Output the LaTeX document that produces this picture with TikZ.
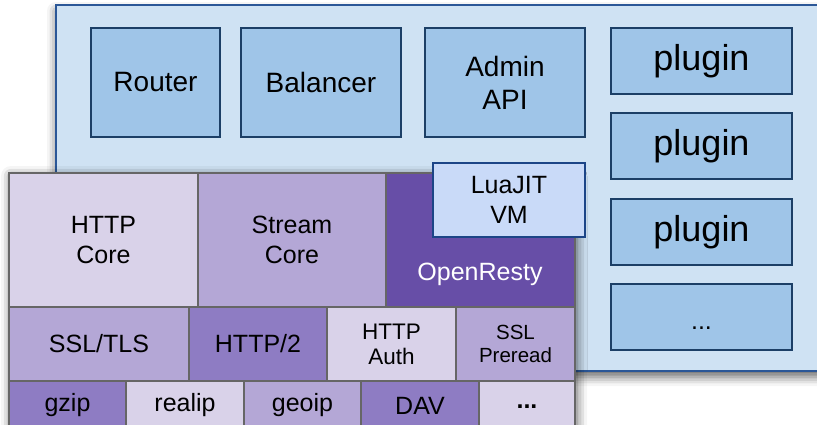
\documentclass[tikz,border=0pt]{standalone}
\usepackage{fontspec}
\setmainfont{Liberation Sans}
\usetikzlibrary{shadows.blur}
\definecolor{panelfill}{HTML}{CFE2F3}
\definecolor{paneldraw}{HTML}{2B5797}
\definecolor{modfill}{HTML}{9FC5E8}
\definecolor{moddraw}{HTML}{1C3F66}
\definecolor{vmfill}{HTML}{C9DAF8}
\definecolor{vmdraw}{HTML}{1C4587}
\definecolor{lilac}{HTML}{D9D2E9}
\definecolor{lavender}{HTML}{B4A7D6}
\definecolor{violet}{HTML}{8E7CC3}
\definecolor{grape}{HTML}{674EA7}
\definecolor{celldraw}{HTML}{666666}

\begin{document}
\begin{tikzpicture}[x=1pt,y=-1pt]
\tikzset{
  box/.style={anchor=north west,inner sep=0pt,outer sep=0pt,align=center,line width=1.5pt},
  panel/.style={box,draw=paneldraw,fill=panelfill,line width=1.8pt,
    blur shadow={shadow blur radius=9pt,shadow xshift=0pt,shadow yshift=-6pt,shadow opacity=60}},
  module/.style={box,draw=moddraw,fill=modfill,font=\fontsize{28}{33}\selectfont},
  plugin/.style={module,minimum width=181pt,minimum height=66pt,font=\fontsize{36}{42}\selectfont},
  cell/.style={box,draw=celldraw,font=\fontsize{25}{29.5}\selectfont},
  stackbg/.style={box,fill=lilac,
    blur shadow={shadow blur radius=10pt,shadow xshift=2pt,shadow yshift=-3pt,shadow opacity=65}},
  rowa/.style={cell,minimum height=134pt},
  rowb/.style={cell,minimum height=74pt},
  rowc/.style={cell,minimum height=49pt},
}
\clip (0,0) rectangle (817,425);
\node[panel,minimum width=790pt,minimum height=366pt] (apisix) at (56,5) {};
\node[module,minimum width=129pt,minimum height=109pt] (router) at (91,28) {Router};
\node[module,minimum width=160pt,minimum height=109pt] (balancer) at (241,28) {Balancer};
\node[module,minimum width=160pt,minimum height=109pt] (admin) at (425,28) {Admin\\API};
\node[plugin] (pluga) at (611,28) {plugin};
\node[plugin] (plugb) at (611,113) {plugin};
\node[plugin] (plugc) at (611,199) {plugin};
\node[plugin,font=\fontsize{25}{30}\selectfont,text height=24pt,text depth=0pt] (plugd) at (611,284) {...};
\node[stackbg,minimum width=566pt,minimum height=270pt] (nginx) at (9,173) {};
\node[rowa,fill=lilac,minimum width=189pt] (httpcore) at (9,173) {HTTP\\Core};
\node[rowa,fill=lavender,minimum width=188pt] (streamcore) at (198,173) {Stream\\Core};
\node[rowa,fill=grape,minimum width=189pt] (openresty) at (386,173) {};
\node[font=\fontsize{25}{29.5}\selectfont,text=white,anchor=base] (orlabel) at (480,280) {OpenResty};
\node[rowb,fill=lavender,minimum width=180pt] (ssl) at (9,307) {SSL/TLS};
\node[rowb,fill=violet,minimum width=138pt] (http2) at (189,307) {HTTP/2};
\node[rowb,fill=lilac,minimum width=129pt,font=\fontsize{22.5}{25}\selectfont] (auth) at (327,307) {HTTP\\Auth};
\node[rowb,fill=lavender,minimum width=119pt,font=\fontsize{20.5}{23}\selectfont] (preread) at (456,307) {SSL\\Preread};
\node[rowc,fill=violet,minimum width=117pt] (gzip) at (9,381) {gzip};
\node[rowc,fill=lilac,minimum width=118pt] (realip) at (126,381) {realip};
\node[rowc,fill=lavender,minimum width=117pt] (geoip) at (244,381) {geoip};
\node[rowc,fill=violet,minimum width=118pt] (dav) at (361,381) {DAV};
\node[rowc,fill=lilac,minimum width=96pt,text height=0.5em,text depth=0pt] (more) at (479,381) {\textbf{...}};
\node[box,draw=vmdraw,fill=vmfill,minimum width=152pt,minimum height=74pt,
  font=\fontsize{25}{29.5}\selectfont] (luajit) at (433,163) {LuaJIT\\VM};
\end{tikzpicture}
\end{document}
